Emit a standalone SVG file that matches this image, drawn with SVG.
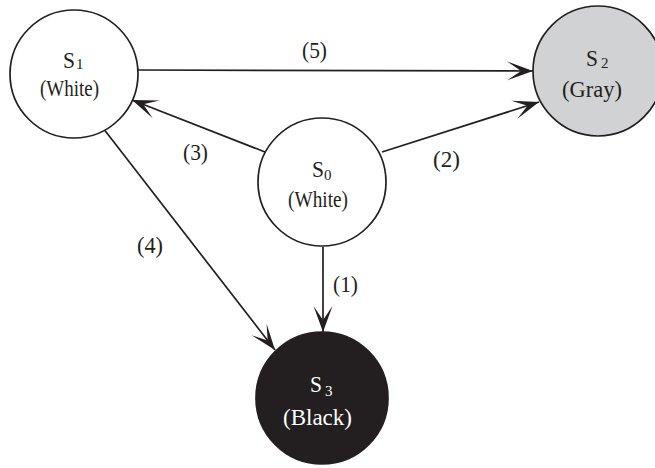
<svg xmlns="http://www.w3.org/2000/svg" width="655" height="468" viewBox="0 0 655 468">
<style>
.node{stroke:#231f20;stroke-width:1.7}
.t{font-family:"Liberation Serif","Times New Roman",serif;font-size:24px;fill:#231f20}
.sub{font-family:"Liberation Serif","Times New Roman",serif;font-size:15px;fill:#231f20}
.w{fill:#ffffff}
.edge{stroke:#231f20;stroke-width:1.7;fill:none;marker-end:url(#ah)}
</style>
<defs>
<marker id="ah" markerUnits="userSpaceOnUse" markerWidth="30" markerHeight="22" viewBox="-27 -11 30 22" refX="0" refY="0" orient="auto">
<path d="M0,0 L-26,-9.5 L-12,0 L-26,9.5 Z" fill="#231f20"/>
</marker>
</defs>
<rect width="655" height="468" fill="#ffffff"/>
<g id="connectors">
<line class="edge" x1="138" y1="70" x2="533" y2="71"/>
<line class="edge" x1="382" y1="152" x2="539" y2="102"/>
<line class="edge" x1="265" y1="152" x2="132" y2="100"/>
<line class="edge" x1="103" y1="128" x2="275" y2="350"/>
<line class="edge" x1="323" y1="247" x2="323" y2="332"/>
<text class="t" x="302" y="58" textLength="25" lengthAdjust="spacingAndGlyphs">(5)</text>
<text class="t" x="433" y="167" textLength="27" lengthAdjust="spacingAndGlyphs">(2)</text>
<text class="t" x="183" y="160" textLength="25" lengthAdjust="spacingAndGlyphs">(3)</text>
<text class="t" x="137" y="253" textLength="26" lengthAdjust="spacingAndGlyphs">(4)</text>
<text class="t" x="333" y="292" textLength="25" lengthAdjust="spacingAndGlyphs">(1)</text>
</g>
<g id="S1">
<circle class="node" cx="74" cy="74" r="64" fill="#ffffff"/>
<text class="t" x="63" y="68" textLength="12" lengthAdjust="spacingAndGlyphs">S</text>
<text class="sub" x="76" y="69">1</text>
<text class="t" x="40" y="96" textLength="59" lengthAdjust="spacingAndGlyphs">(White)</text>
</g>
<g id="S2">
<circle class="node" cx="598" cy="71" r="65" fill="#d1d2d4"/>
<text class="t" x="586" y="66" textLength="12" lengthAdjust="spacingAndGlyphs">S</text>
<text class="sub" x="601" y="68">2</text>
<text class="t" x="562" y="97" textLength="60" lengthAdjust="spacingAndGlyphs">(Gray)</text>
</g>
<g id="S0">
<circle class="node" cx="322" cy="182" r="64" fill="#ffffff"/>
<text class="t" x="312" y="177" textLength="12" lengthAdjust="spacingAndGlyphs">S</text>
<text class="sub" x="324" y="180">0</text>
<text class="t" x="288" y="207" textLength="60" lengthAdjust="spacingAndGlyphs">(White)</text>
</g>
<g id="S3">
<circle class="node" cx="322" cy="398" r="66" fill="#231f20"/>
<text class="t w" x="310" y="392" textLength="12" lengthAdjust="spacingAndGlyphs">S</text>
<text class="sub w" x="325" y="396">3</text>
<text class="t w" x="283" y="425" textLength="69" lengthAdjust="spacingAndGlyphs">(Black)</text>
</g>
</svg>
